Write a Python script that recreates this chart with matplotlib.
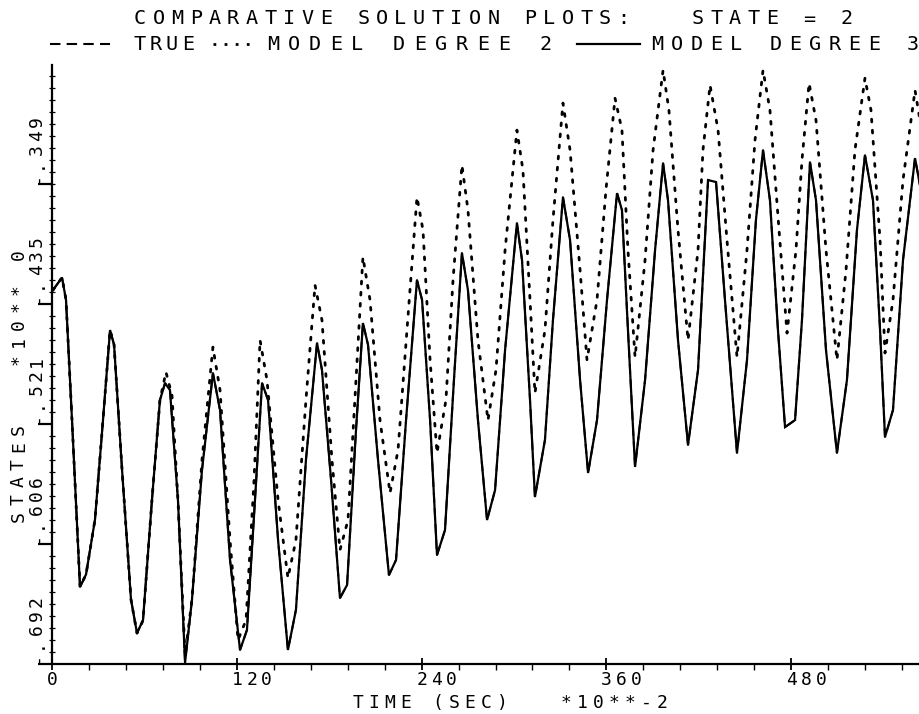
import matplotlib
matplotlib.use("Agg")
import matplotlib.pyplot as plt
from matplotlib.ticker import FixedLocator

# ---- data (time in units of 10**-2 s, state value) ----
time_deg3 = [0.6, 6.5, 9.1, 13.0, 18.2, 22.1, 27.9, 33.1, 37.7, 40.3, 45.5, 51.3, 55.2, 59.1,
             64.9, 70.1, 73.4, 76.6, 81.8, 86.4, 90.9, 97.4, 104.5, 109.1, 115.6, 122.1,
             126.6, 131.8, 136.4, 140.3, 146.8, 153.2, 158.4, 164.9, 172.1, 175.3, 181.2,
             187.0, 191.6, 197.4, 201.9, 205.2, 211.7, 218.8, 223.4, 229.9, 237.0, 240.3,
             245.5, 250.0, 255.2, 261.0, 266.2, 270.1, 276.6, 282.5, 287.7, 294.2, 301.9,
             305.2, 310.4, 313.6, 320.1, 325.3, 331.8, 336.4, 342.9, 348.1, 353.9, 360.4,
             366.9, 370.1, 374.0, 378.6, 385.1, 391.6, 396.8, 400.0, 406.5, 413.0, 419.5,
             426.0, 431.2, 437.0, 444.8, 451.3, 457.1, 461.7, 466.2, 471.4, 476.0, 482.5,
             487.0, 492.2, 496.1, 502.6, 509.7, 516.2, 522.7, 527.9, 533.1, 537.7, 540.9,
             546.1, 552.6, 560.4, 563.6]
state_deg3 = [-0.425, -0.416, -0.432, -0.518, -0.637, -0.628, -0.589, -0.518, -0.4535, -0.464,
              -0.5535, -0.646, -0.670, -0.6606, -0.575, -0.5035, -0.4914, -0.4964, -0.575,
              -0.691, -0.646, -0.5535, -0.4842, -0.5106, -0.6177, -0.682, -0.6677, -0.575,
              -0.4914, -0.5035, -0.6035, -0.682, -0.6534, -0.5463, -0.4628, -0.482, -0.5606,
              -0.6449, -0.6356, -0.525, -0.4485, -0.464, -0.5463, -0.6285, -0.6177, -0.5178,
              -0.4178, -0.432, -0.5178, -0.6142, -0.5963, -0.4892, -0.3985, -0.425, -0.5178,
              -0.5892, -0.5678, -0.4678, -0.3771, -0.4035, -0.5035, -0.5728, -0.532, -0.4464,
              -0.3586, -0.3893, -0.4892, -0.5556, -0.5178, -0.432, -0.3557, -0.3678, -0.4535,
              -0.5513, -0.4892, -0.3964, -0.3343, -0.3607, -0.4607, -0.5356, -0.482, -0.3464,
              -0.3478, -0.432, -0.5413, -0.4749, -0.375, -0.325, -0.3607, -0.4535, -0.5228,
              -0.5178, -0.4464, -0.3336, -0.3607, -0.4678, -0.5413, -0.4892, -0.3821, -0.3286,
              -0.3607, -0.4535, -0.5299, -0.5106, -0.4035, -0.3307, -0.350]

# the true response follows the degree-3 model closely
time_true = list(time_deg3)
state_true = list(state_deg3)

time_deg2 = [0.6, 6.5, 9.1, 13.0, 18.2, 22.1, 27.9, 33.1, 37.7, 40.3, 45.5, 51.3, 55.2, 59.1,
             64.9, 70.1, 74.0, 77.9, 81.8, 86.4, 90.9, 97.4, 104.5, 109.1, 115.6, 120.8,
             126.0, 131.2, 135.1, 139.6, 146.8, 153.2, 158.4, 164.9, 170.8, 175.3, 181.8,
             187.0, 192.2, 197.4, 201.9, 206.5, 213.0, 219.5, 224.7, 230.5, 237.0, 240.9,
             245.5, 250.0, 255.8, 260.4, 266.2, 270.1, 276.6, 283.1, 288.3, 294.2, 301.9,
             305.8, 310.4, 313.6, 320.1, 325.3, 331.8, 336.4, 342.9, 347.4, 353.9, 359.7,
             365.6, 370.1, 374.0, 378.6, 385.1, 390.3, 396.8, 400.6, 406.5, 413.0, 419.5,
             422.7, 427.3, 432.5, 438.3, 444.8, 451.3, 456.5, 461.7, 466.2, 472.1, 477.3,
             483.1, 487.0, 491.6, 496.1, 502.6, 509.7, 515.6, 521.4, 527.9, 531.8, 537.7,
             540.9, 546.1, 552.6, 560.4, 563.6]
state_deg2 = [-0.425, -0.416, -0.432, -0.518, -0.637, -0.628, -0.589, -0.518, -0.4535, -0.464,
              -0.5535, -0.646, -0.670, -0.661, -0.575, -0.5035, -0.4835, -0.500, -0.575,
              -0.6856, -0.646, -0.5463, -0.4657, -0.4964, -0.6035, -0.6749, -0.6606, -0.5606,
              -0.4607, -0.4892, -0.575, -0.6306, -0.6035, -0.5035, -0.4214, -0.4464, -0.5463,
              -0.6106, -0.5892, -0.4892, -0.4014, -0.432, -0.518, -0.5699, -0.5392, -0.4535,
              -0.3586, -0.3821, -0.4749, -0.5413, -0.5035, -0.4178, -0.3357, -0.3678, -0.4607,
              -0.518, -0.482, -0.3964, -0.3107, -0.3393, -0.432, -0.4985, -0.4535, -0.375,
              -0.2914, -0.325, -0.4107, -0.4749, -0.432, -0.3536, -0.2879, -0.3107, -0.3964,
              -0.4728, -0.4035, -0.325, -0.2679, -0.2964, -0.3821, -0.4607, -0.3964, -0.325,
              -0.2786, -0.3107, -0.3893, -0.4728, -0.3964, -0.3179, -0.2679, -0.2964, -0.3821,
              -0.4557, -0.3964, -0.3321, -0.2772, -0.3036, -0.3964, -0.4749, -0.4107, -0.325,
              -0.2736, -0.2964, -0.3893, -0.4699, -0.432, -0.3464, -0.2822, -0.3036]

x_ticks = [0, 120, 240, 360, 480]
x_tick_labels = ["0", "120", "240", "360", "480"]
y_ticks = [-0.692, -0.6063, -0.5206, -0.4349, -0.3491]
y_tick_labels = ["-.692", "-.606", "-.521", "-.435", "-.349"]

title_text = "COMPARATIVE SOLUTION PLOTS:   STATE = 2"
legend_labels = ["TRUE", "MODEL DEGREE 2", "MODEL DEGREE 3"]
x_label = "TIME (SEC)   *10**-2"
y_label = "STATES   *10** 0"

# ---- figure ----
W, H = 920, 714
fig = plt.figure(figsize=(W / 100, H / 100), dpi=100)
fig.patch.set_facecolor("white")
FONT = "DejaVu Sans Mono"

ax_left, ax_bottom, ax_top = 52, 664, 65
ax = fig.add_axes([ax_left / W, (H - ax_bottom) / H, (W - ax_left) / W,
                   (ax_bottom - ax_top) / H])
ax.set_xlim(0, (W - ax_left) / 1.54)
ax.set_ylim(-0.692, -0.692 + (ax_bottom - ax_top) * 0.0857 / 120)

ax.plot(time_true, state_true, color="black", lw=1.4, ls=(0, (5, 3)))
ax.plot(time_deg2, state_deg2, color="black", lw=2.0, ls=(0, (1, 3)),
        dash_capstyle="round")
ax.plot(time_deg3, state_deg3, color="black", lw=1.6, solid_joinstyle="miter")

for s in ("top", "right"):
    ax.spines[s].set_visible(False)
for s in ("left", "bottom"):
    ax.spines[s].set_linewidth(1.6)
    ax.spines[s].set_color("black")

ax.set_xticks(x_ticks)
ax.set_yticks(y_ticks)
ax.set_xticklabels([])
ax.set_yticklabels([])
ax.xaxis.set_minor_locator(FixedLocator([v for v in range(24, 564, 24) if v % 120]))
yminor = [-0.692 + k * 0.00857 for k in range(1, 70)]
ax.yaxis.set_minor_locator(FixedLocator(yminor))
ax.tick_params(axis="x", which="major", direction="inout", length=9, width=1.3)
ax.tick_params(axis="x", which="minor", direction="out", length=4, width=1.0)
ax.tick_params(axis="y", which="major", direction="out", length=10, width=1.6)
ax.tick_params(axis="y", which="minor", direction="inout", length=4, width=0.9)


def put_chars(x, y, s, pitch, size, rot=0):
    """Place a string one character at a time (pixel coords, origin top-left)."""
    for i, ch in enumerate(s):
        if ch == " ":
            continue
        if rot == 0:
            px, py = x + i * pitch, y
        else:
            px, py = x, y - i * pitch
        fig.text(px / W, 1 - py / H, ch, ha="center", va="center", rotation=rot,
                 fontsize=size, family=FONT, color="black")


def to_px(xv, yv):
    dx, dy = ax.transData.transform((xv, yv))
    return dx, H - dy


# title and legend row
put_chars(140, 19, title_text, 18.6, 14.5)
leg_y = 44
fig.add_artist(plt.Line2D([50 / W, 110 / W], [1 - leg_y / H] * 2, color="black",
                          lw=1.5, ls=(0, (5, 3))))
put_chars(140, leg_y, legend_labels[0], 16, 14.5)
fig.add_artist(plt.Line2D([213 / W, 253 / W], [1 - leg_y / H] * 2, color="black",
                          lw=2.0, ls=(0, (1, 3))))
put_chars(273, leg_y, legend_labels[1], 21, 14.5)
fig.add_artist(plt.Line2D([577 / W, 640 / W], [1 - leg_y / H] * 2, color="black",
                          lw=1.6))
put_chars(657, leg_y, legend_labels[2], 19.7, 14.5)

# tick labels
for v, lab in zip(x_ticks, x_tick_labels):
    px, _ = to_px(v, -0.692)
    put_chars(px, 680, lab, 15, 13)
for v, lab in zip(y_ticks, y_tick_labels):
    _, py = to_px(0, v)
    put_chars(37, py - 6, lab, 14, 13, rot=90)

# axis labels
put_chars(566 - 13 * 16, 703, x_label, 16, 13)
put_chars(19, 517, y_label, 17.5, 13, rot=90)

fig.savefig("out.png", dpi=100, facecolor="white")
